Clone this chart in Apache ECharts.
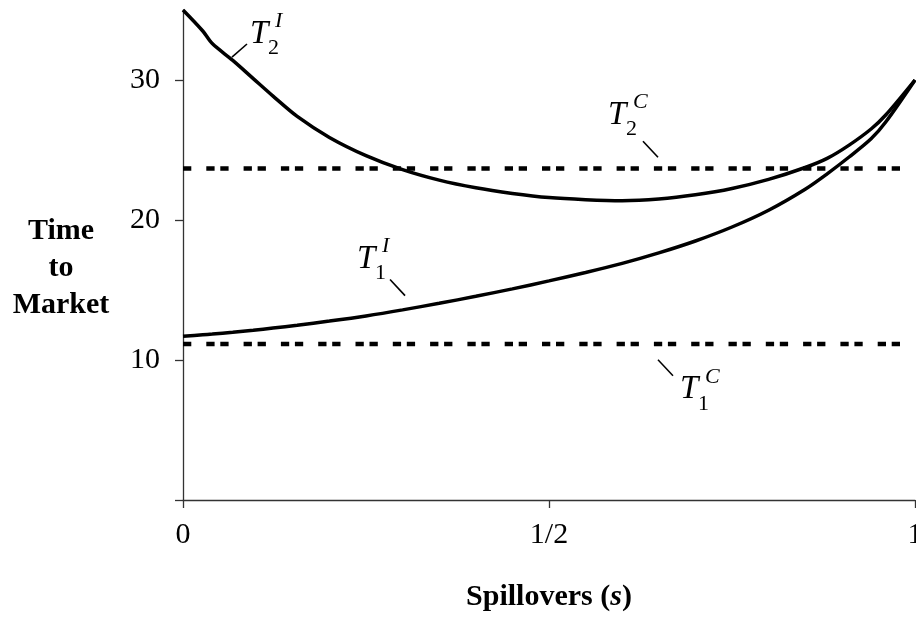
<!DOCTYPE html>
<html><head><meta charset="utf-8">
<script src="https://cdn.jsdelivr.net/npm/echarts@6/dist/echarts.min.js"></script>
<style>html,body{margin:0;padding:0;background:#fff}#c{width:916px;height:619px}</style>
</head><body><div id="c"></div>
<script>
// spillover values (x axis)
const spill = [0, 0.027, 0.04, 0.068, 0.096, 0.123, 0.156, 0.2, 0.25, 0.3, 0.35, 0.4, 0.45, 0.5, 0.55, 0.6, 0.65, 0.7, 0.75, 0.8, 0.85, 0.88, 0.91, 0.94, 0.96, 1.0];
// T2 interior (upper curve)
const t2I = [35, 33.5, 32.6, 31.4, 30.1, 28.85, 27.4, 25.9, 24.6, 23.6, 22.85, 22.3, 21.9, 21.6, 21.45, 21.38, 21.5, 21.8, 22.25, 22.9, 23.75, 24.4, 25.35, 26.5, 27.5, 30];
// T1 interior (lower curve)
const t1I = [11.7, 11.8, 11.85, 11.98, 12.12, 12.28, 12.48, 12.78, 13.15, 13.58, 14.05, 14.55, 15.08, 15.65, 16.25, 16.9, 17.65, 18.5, 19.5, 20.7, 22.2, 23.3, 24.5, 25.8, 27.0, 30];
// cooperative (constant) levels
const t2C = 23.67;
const t1C = 11.15;
// ticks
const xTicks = [0, 0.5, 1];
const xTickLabels = ['0', '1/2', '1'];
const yTicks = [0, 10, 20, 30];
const yLabelValues = [10, 20, 30];

const FONT = "'Liberation Serif', 'Times New Roman', serif";

// annotation texts: subscript, superscript, T anchor (data), leader start/end (data)
const annSub = ['2', '2', '1', '1'];
const annSup = ['I', 'C', 'I', 'C'];
const annAt = [[0.0915, 33.29], [0.5806, 27.49], [0.2377, 17.18], [0.679, 7.87]];
const annLeadA = [[0.0669, 31.64], [0.6284, 25.63], [0.2828, 15.75], [0.6489, 10.02]];
const annLeadB = [[0.0874, 32.57], [0.6489, 24.48], [0.3033, 14.60], [0.6694, 8.88]];

const pair = (xs, ys) => xs.map((x, i) => [x, ys[i]]);

const chart = echarts.init(document.getElementById('c'), null, {renderer: 'canvas'});
const axisColor = '#333';
const dashStyle = {color: '#000', width: 4.5, type: [8.3, 15, 8.3, 5.7], cap: 'butt'};

chart.setOption({
  animation: false,
  backgroundColor: '#fff',
  grid: {left: 183, right: 1, top: 10, bottom: 119, containLabel: false, outerBoundsMode: 'none'},
  xAxis: {
    type: 'value', min: 0, max: 1, interval: 0.5,
    name: '{b|Spillovers (}{i|s}{b|)}',
    nameLocation: 'middle', nameGap: 82,
    nameTextStyle: {
      rich: {
        b: {fontFamily: FONT, fontWeight: 'bold', fontSize: 30, color: '#000'},
        i: {fontFamily: FONT, fontWeight: 'bold', fontStyle: 'italic', fontSize: 30, color: '#000'}
      }
    },
    axisLine: {show: true, lineStyle: {color: axisColor, width: 1.3}},
    axisTick: {show: true, length: 8, lineStyle: {color: axisColor, width: 1.3}, customValues: xTicks},
    axisLabel: {
      customValues: xTicks, margin: 20,
      fontFamily: FONT, fontSize: 30, color: '#000',
      formatter: v => xTickLabels[xTicks.indexOf(v)] ?? ''
    },
    splitLine: {show: false}
  },
  yAxis: {
    type: 'value', min: 0, max: 35, interval: 10,
    axisLine: {show: true, lineStyle: {color: axisColor, width: 1.3}},
    axisTick: {show: true, length: 8, lineStyle: {color: axisColor, width: 1.3}, customValues: yTicks},
    axisLabel: {customValues: yLabelValues, margin: 23, fontFamily: FONT, fontSize: 30, color: '#000'},
    splitLine: {show: false}
  },
  series: [
    {type: 'line', name: 'T2I', data: pair(spill, t2I), showSymbol: false, smooth: 0.3,
     lineStyle: {color: '#000', width: 3.5}, z: 3},
    {type: 'line', name: 'T1I', data: pair(spill, t1I), showSymbol: false, smooth: 0.3,
     lineStyle: {color: '#000', width: 3.5}, z: 3},
    {type: 'line', name: 'T2C', data: [[0, t2C], [1, t2C]], showSymbol: false, lineStyle: dashStyle, z: 2},
    {type: 'line', name: 'T1C', data: [[0, t1C], [1, t1C]], showSymbol: false, lineStyle: dashStyle, z: 2}
  ]
});

const toPx = p => chart.convertToPixel({gridIndex: 0}, p);
const els = [];
// y-axis title
els.push({type: 'text', x: 61, y: 268, style: {text: 'Time\nto\nMarket', font: 'bold 30px ' + FONT, lineHeight: 37, fill: '#000', align: 'center', verticalAlign: 'middle', textAlign: 'center', textVerticalAlign: 'middle'}, z: 10});
annAt.forEach((at, i) => {
  const p = toPx(at);
  const a = toPx(annLeadA[i]);
  const b = toPx(annLeadB[i]);
  els.push({type: 'line', shape: {x1: a[0], y1: a[1], x2: b[0], y2: b[1]}, style: {stroke: '#000', lineWidth: 1.6}, z: 10});
  els.push({type: 'text', x: p[0], y: p[1], style: {text: 'T', font: 'italic 33px ' + FONT, fill: '#000', align: 'left', verticalAlign: 'middle', textAlign: 'left', textVerticalAlign: 'middle'}, z: 10});
  els.push({type: 'text', x: p[0] + 18, y: p[1] + 14, style: {text: annSub[i], font: '22px ' + FONT, fill: '#000', align: 'left', verticalAlign: 'middle', textAlign: 'left', textVerticalAlign: 'middle'}, z: 10});
  els.push({type: 'text', x: p[0] + 25, y: p[1] - 13, style: {text: annSup[i], font: 'italic 22px ' + FONT, fill: '#000', align: 'left', verticalAlign: 'middle', textAlign: 'left', textVerticalAlign: 'middle'}, z: 10});
});
chart.setOption({graphic: {elements: els}});
</script>
</body></html>
